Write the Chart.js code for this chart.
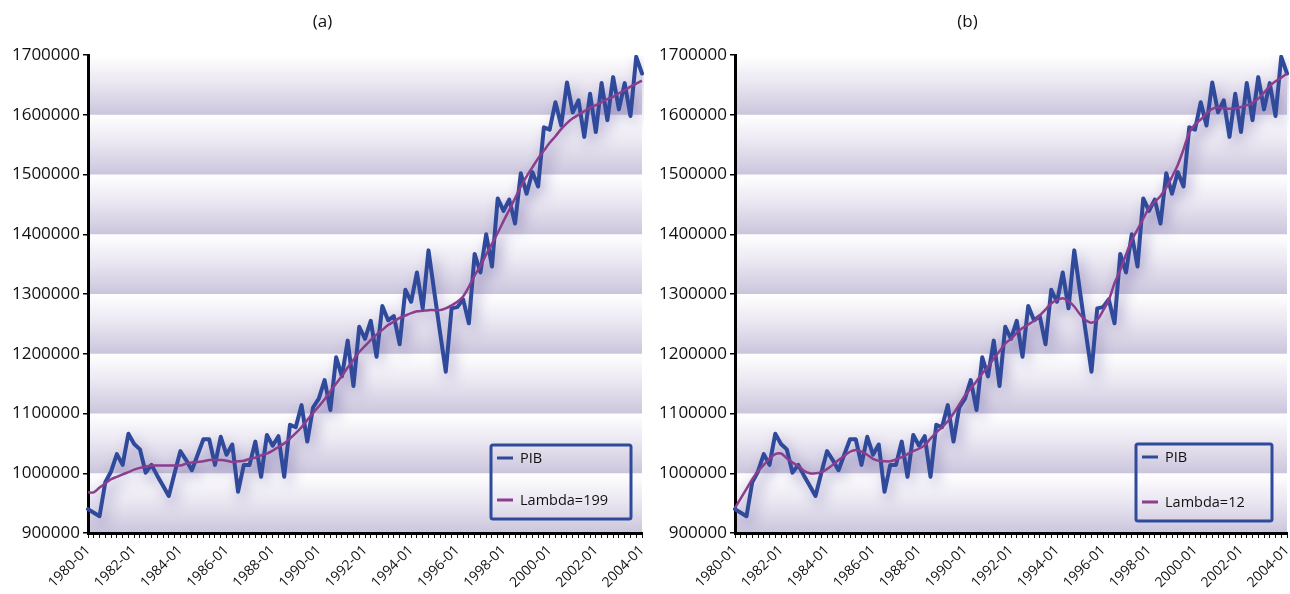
<!DOCTYPE html>
<html>
<head>
<meta charset="utf-8">
<script src="https://cdn.jsdelivr.net/npm/chart.js@4.4.1/dist/chart.umd.min.js"></script>
<style>
  html, body { margin: 0; padding: 0; background: #fff; }
  .panel { position: absolute; top: 0; width: 645px; height: 594px; }
  #panelA { left: 0; }
  #panelB { left: 645px; }
</style>
</head>
<body>
<div class="panel" id="panelA"><canvas id="chartA" width="645" height="594"></canvas></div>
<div class="panel" id="panelB"><canvas id="chartB" width="645" height="594"></canvas></div>
<script>
// quarterly labels 1980-01 .. 2004-01
const quarters = []
for (let y = 1980; y <= 2004; y++) {
  for (let q = 1; q <= 4; q++) quarters.push(`${y}-0${q}`)
}
quarters.length = 97

const yTicks = [900000, 1000000, 1100000, 1200000, 1300000, 1400000, 1500000, 1600000, 1700000]

const pib = [
  940000, 934000, 928000, 985000, 1003000, 1032000, 1014000, 1066000, 1049000, 1040000,
  1001000, 1014000, 996000, 979000, 962000, 1000000, 1037000, 1022000, 1005000, 1031000,
  1057000, 1057000, 1014000, 1061000, 1031000, 1048000, 969000, 1014000, 1014000, 1053000,
  994000, 1064000, 1046000, 1062000, 994000, 1081000, 1077000, 1114000, 1053000, 1110000,
  1125000, 1156000, 1106000, 1194000, 1162000, 1222000, 1146000, 1245000, 1225000, 1255000,
  1195000, 1280000, 1256000, 1263000, 1216000, 1307000, 1287000, 1336000, 1276000, 1373000,
  1304000, 1236000, 1170000, 1276000, 1278000, 1291000, 1251000, 1367000, 1336000, 1400000,
  1346000, 1460000, 1439000, 1458000, 1418000, 1502000, 1468000, 1504000, 1480000, 1579000,
  1575000, 1621000, 1582000, 1654000, 1604000, 1624000, 1563000, 1635000, 1571000, 1653000,
  1591000, 1663000, 1609000, 1653000, 1598000, 1697000, 1669000
]

// Hodrick-Prescott trend, lambda = 199
const trend199 = [
  968000, 968000, 976000, 983000, 990000, 994000, 998000, 1002000, 1006000, 1009000,
  1011000, 1013000, 1013000, 1013000, 1013000, 1013000, 1013000, 1016000, 1018000, 1019000,
  1020000, 1022000, 1022000, 1022000, 1021000, 1019000, 1020000, 1021000, 1024000, 1026000,
  1030000, 1033000, 1038000, 1044000, 1050000, 1058000, 1067000, 1077000, 1089000, 1101000,
  1112000, 1124000, 1137000, 1150000, 1163000, 1177000, 1190000, 1203000, 1213000, 1223000,
  1232000, 1240000, 1248000, 1254000, 1260000, 1264000, 1268000, 1271000, 1272000, 1273000,
  1273000, 1273000, 1276000, 1281000, 1287000, 1296000, 1312000, 1331000, 1347000, 1366000,
  1384000, 1402000, 1422000, 1441000, 1460000, 1480000, 1497000, 1512000, 1527000, 1540000,
  1553000, 1564000, 1576000, 1586000, 1594000, 1600000, 1606000, 1612000, 1616000, 1621000,
  1626000, 1630000, 1636000, 1641000, 1647000, 1652000, 1657000
]

// Hodrick-Prescott trend, lambda = 12
const trend12 = [
  942000, 958000, 974000, 990000, 1003000, 1014000, 1024000, 1032000, 1033000, 1025000,
  1018000, 1012000, 1004000, 1000000, 1000000, 1002000, 1007000, 1014000, 1022000, 1029000,
  1036000, 1039000, 1036000, 1031000, 1024000, 1021000, 1020000, 1020000, 1023000, 1027000,
  1032000, 1037000, 1041000, 1047000, 1058000, 1068000, 1077000, 1087000, 1100000, 1115000,
  1130000, 1142000, 1154000, 1167000, 1178000, 1192000, 1204000, 1217000, 1225000, 1235000,
  1243000, 1249000, 1255000, 1264000, 1274000, 1284000, 1290000, 1293000, 1288000, 1279000,
  1266000, 1256000, 1252000, 1257000, 1272000, 1290000, 1318000, 1340000, 1366000, 1390000,
  1408000, 1426000, 1444000, 1454000, 1464000, 1478000, 1496000, 1516000, 1542000, 1570000,
  1584000, 1592000, 1602000, 1610000, 1612000, 1611000, 1610000, 1611000, 1613000, 1616000,
  1620000, 1627000, 1637000, 1648000, 1656000, 1662000, 1669000
]

const BLUE = '#2f4a9b'
const PURPLE = '#8b3d8e'
const FONT = '"Open Sans", "DejaVu Sans", sans-serif'

// white-to-lavender band between every pair of y ticks
const bands = {
  id: 'bands',
  beforeDraw(chart) {
    const { ctx, chartArea: a, scales: { y } } = chart
    ctx.save()
    for (let k = 0; k < yTicks.length - 1; k++) {
      const top = y.getPixelForValue(yTicks[k + 1])
      const bot = y.getPixelForValue(yTicks[k])
      const g = ctx.createLinearGradient(0, top, 0, bot)
      g.addColorStop(0, '#ffffff')
      g.addColorStop(0.45, '#ebe8f2')
      g.addColorStop(1, '#cbc5dc')
      ctx.fillStyle = g
      ctx.fillRect(a.left, top, a.right - a.left, bot - top)
    }
    ctx.restore()
  }
}

// soft drop shadow under each line
const haze = {
  id: 'haze',
  beforeDatasetDraw(chart) {
    const ctx = chart.ctx
    ctx.save()
    ctx.shadowColor = 'rgba(95, 85, 160, 0.45)'
    ctx.shadowBlur = 14
    ctx.shadowOffsetX = 4
    ctx.shadowOffsetY = 7
  },
  afterDatasetDraw(chart) {
    chart.ctx.restore()
  }
}

// panel title and boxed legend
const decor = {
  id: 'decor',
  afterDraw(chart, args, opts) {
    const ctx = chart.ctx
    ctx.save()
    ctx.fillStyle = '#111'
    ctx.font = `17px ${FONT}`
    ctx.textAlign = 'center'
    ctx.textBaseline = 'middle'
    ctx.fillText(opts.title, chart.width / 2, 22)

    const b = opts.box
    ctx.strokeStyle = BLUE
    ctx.lineWidth = 3
    ctx.beginPath()
    ctx.roundRect(b.x, b.y, b.w, b.h, 2)
    ctx.stroke()

    const rows = [b.y + 13, b.y + b.h - 19]
    ctx.font = `14.5px ${FONT}`
    ctx.textAlign = 'left'
    chart.data.datasets.slice().reverse().forEach((ds, i) => {
      ctx.strokeStyle = ds.borderColor
      ctx.lineWidth = 3
      ctx.beginPath()
      ctx.moveTo(b.x + 6, rows[i])
      ctx.lineTo(b.x + 22, rows[i])
      ctx.stroke()
      ctx.fillStyle = '#111'
      ctx.fillText(ds.label, b.x + 29, rows[i] + 1)
    })
    ctx.restore()
  }
}

function makePanel(id, title, trend, trendLabel, leftEdge, box) {
  return new Chart(document.getElementById(id), {
    type: 'line',
    data: {
      labels: quarters,
      datasets: [
        {
          label: trendLabel,
          data: trend,
          borderColor: PURPLE,
          borderWidth: 2.5,
          pointRadius: 0,
          tension: 0.3,
          order: 1
        },
        {
          label: 'PIB',
          data: pib,
          borderColor: BLUE,
          borderWidth: 4,
          pointRadius: 0,
          tension: 0,
          borderJoinStyle: 'round',
          borderCapStyle: 'round',
          order: 2
        }
      ]
    },
    options: {
      responsive: false,
      animation: false,
      devicePixelRatio: 1,
      events: [],
      layout: { padding: { top: 55, right: 3, bottom: 0, left: 0 } },
      plugins: {
        legend: { display: false },
        tooltip: { enabled: false },
        decor: { title, box }
      },
      scales: {
        x: {
          type: 'category',
          offset: false,
          grid: { drawOnChartArea: false, tickLength: 5, color: '#111', lineWidth: 1 },
          border: { color: '#000', width: 3 },
          ticks: {
            autoSkip: false,
            maxRotation: 45,
            minRotation: 45,
            padding: 4,
            color: '#111',
            font: { family: FONT, size: 14 },
            callback: (v, i) => i % 8 === 0 ? quarters[i] : ''
          },
          afterFit(s) { s.height = 61; s.paddingLeft = 0; s.paddingRight = 0 }
        },
        y: {
          min: yTicks[0],
          max: yTicks[yTicks.length - 1],
          grid: { drawOnChartArea: false, tickLength: 5, color: '#000', lineWidth: 1.5 },
          border: { color: '#000', width: 3 },
          ticks: {
            stepSize: 100000,
            padding: 3,
            color: '#111',
            font: { family: FONT, size: 17 },
            callback: v => String(v)
          },
          afterFit(s) { s.width = leftEdge }
        }
      }
    },
    plugins: [bands, haze, decor]
  })
}

makePanel('chartA', '(a)', trend199, 'Lambda=199', 88, { x: 491, y: 445, w: 140, h: 74 })
makePanel('chartB', '(b)', trend12, 'Lambda=12', 90, { x: 491, y: 444, w: 136, h: 77 })
</script>
</body>
</html>
